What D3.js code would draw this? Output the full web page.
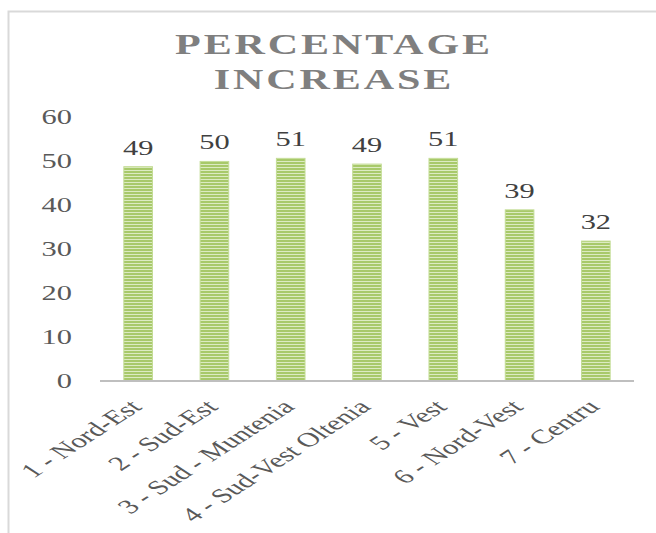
<!DOCTYPE html>
<html>
<head>
<meta charset="utf-8">
<script src="https://cdn.jsdelivr.net/npm/d3@7"></script>
<style>
  body { margin: 0; background: #fff; }
  text { font-family: 'Liberation Serif', 'DejaVu Serif', serif; }
</style>
</head>
<body>
<div id="svg-container"></div>
<script>
// Data
const regions = ['1 - Nord-Est', '2 -  Sud-Est', '3 - Sud - Muntenia', '4 - Sud-Vest Oltenia', '5 - Vest', '6 - Nord-Vest', '7 - Centru']
const increase = [48.7, 49.9, 50.6, 49.3, 50.6, 38.9, 31.8]
const yTicks = [0, 10, 20, 30, 40, 50, 60]
const titleLines = ['PERCENTAGE', 'INCREASE']

// the source picture is stretched sideways, so text is widened too
const sx = 1.45

// Size & Margins
var svgWidth = 656,
  svgHeight = 533,
  margin = { top: 117, right: 22, bottom: 152, left: 100 }
var width = svgWidth - margin.left - margin.right,
  height = svgHeight - margin.top - margin.bottom

var svg = d3
  .select('#svg-container')
  .append('svg')
  .attr('width', svgWidth)
  .attr('height', svgHeight)

// striped green fill
var defs = svg.append('defs')
var pat = defs
  .append('pattern')
  .attr('id', 'stripes')
  .attr('patternUnits', 'userSpaceOnUse')
  .attr('width', 8)
  .attr('height', 3)
pat.append('rect').attr('width', 8).attr('height', 3).attr('fill', '#a8c96a')
pat.append('rect').attr('y', 2).attr('width', 8).attr('height', 1).attr('fill', '#dcebc2')

// chart border
svg
  .append('path')
  .attr('d', 'M8.5,533 V11.5 H656')
  .attr('fill', 'none')
  .attr('stroke', '#d9d9d9')
  .attr('stroke-width', 2)

// Title
svg
  .selectAll('text.title')
  .data(titleLines)
  .join('text')
  .attr('class', 'title')
  .attr('transform', (d, i) => `translate(334, ${54 + i * 35}) scale(${sx},1)`)
  .attr('text-anchor', 'middle')
  .attr('fill', '#7f7f7f')
  .style('font-size', '29px')
  .style('font-weight', 'bold')
  .style('letter-spacing', '2px')
  .text(d => d)

// Scales
var x = d3
  .scaleBand()
  .domain(regions)
  .range([0, width])
  .paddingInner(0.625)
  .paddingOuter(0.3125)
var y = d3.scaleLinear().domain([0, 60]).range([height, 0])

var g = svg
  .append('g')
  .attr('transform', 'translate(' + margin.left + ',' + margin.top + ')')

// Y axis (labels only)
g.append('g')
  .selectAll('text')
  .data(yTicks)
  .join('text')
  .attr('transform', d => `translate(-28, ${y(d)}) scale(${sx},1)`)
  .attr('dy', '0.35em')
  .attr('text-anchor', 'end')
  .attr('fill', '#595959')
  .style('font-size', '21px')
  .text(d => d)

// Bars
g.selectAll('rect.bar')
  .data(increase)
  .join('rect')
  .attr('class', 'bar')
  .attr('x', (d, i) => x(regions[i]))
  .attr('y', d => y(d))
  .attr('width', x.bandwidth())
  .attr('height', d => height - y(d))
  .attr('fill', 'url(#stripes)')
  .attr('stroke', '#c3dc95')
  .attr('stroke-width', 1)

// baseline
g.append('line')
  .attr('x1', 0)
  .attr('x2', width)
  .attr('y1', height)
  .attr('y2', height)
  .attr('stroke', '#bfbfbf')
  .attr('stroke-width', 2)

// Data labels
g.selectAll('text.lbl')
  .data(increase)
  .join('text')
  .attr('class', 'lbl')
  .attr(
    'transform',
    (d, i) => `translate(${x(regions[i]) + x.bandwidth() / 2}, ${y(d) - 12}) scale(${sx},1)`,
  )
  .attr('text-anchor', 'middle')
  .attr('fill', '#404040')
  .style('font-size', '21px')
  .text(d => d3.format('.0f')(d))

// X axis labels, rotated (and stretched like the source)
g.selectAll('text.xl')
  .data(regions)
  .join('text')
  .attr('class', 'xl')
  .attr(
    'transform',
    d => `translate(${x(d) + x.bandwidth() / 2 + 5}, ${height + 27}) scale(1.55,1) rotate(-45)`,
  )
  .attr('text-anchor', 'end')
  .attr('fill', '#595959')
  .style('font-size', '20px')
  .text(d => d)
</script>
</body>
</html>
